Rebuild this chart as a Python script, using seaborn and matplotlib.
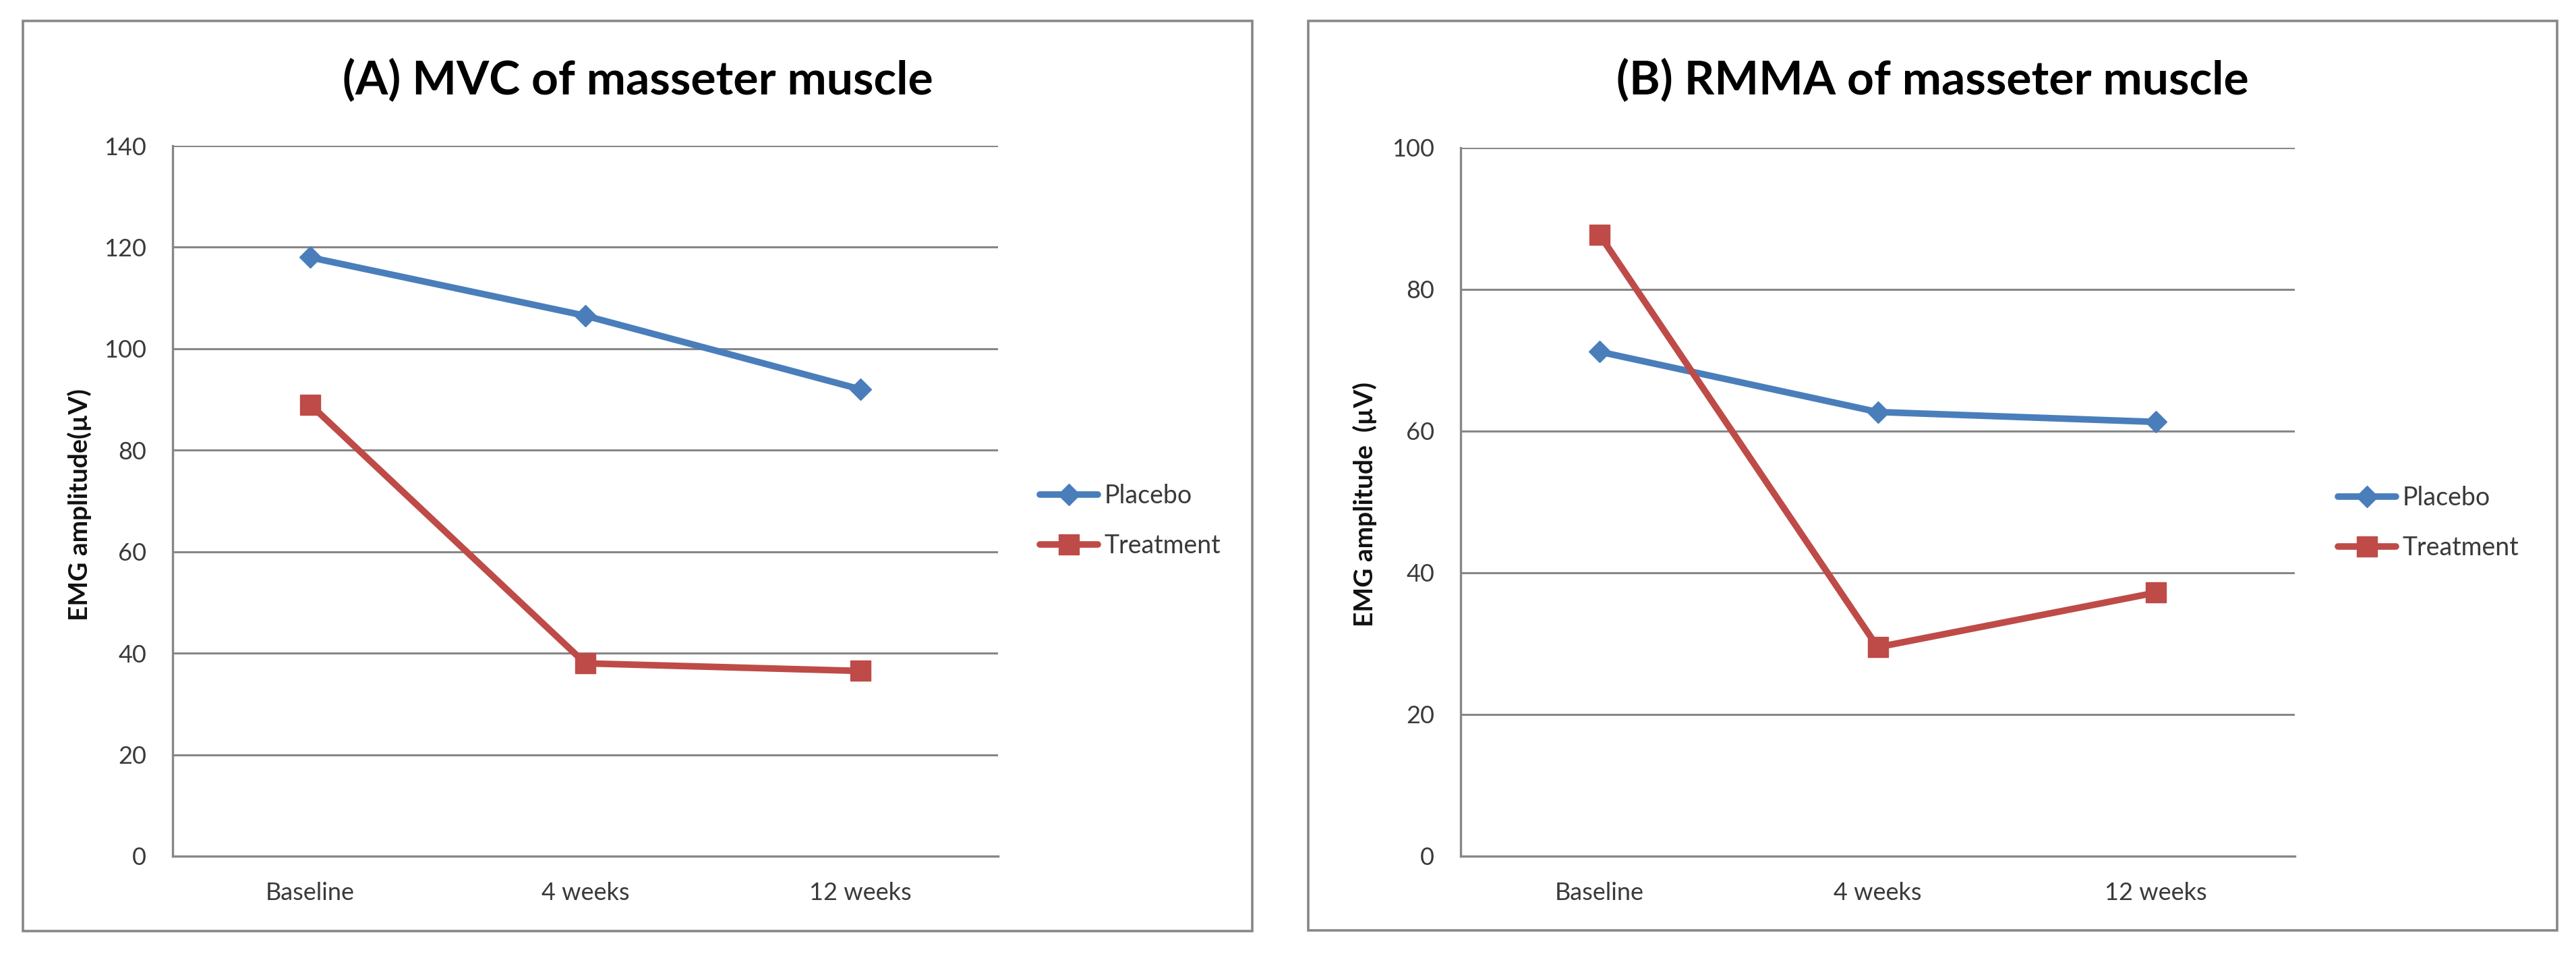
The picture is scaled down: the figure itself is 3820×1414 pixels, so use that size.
import pandas as pd
import seaborn as sns
import matplotlib.pyplot as plt
from matplotlib.patches import Rectangle

# data
weeks = ['Baseline', '4 weeks', '12 weeks']
groups = ['Placebo', 'Treatment']
mvc_placebo = [118, 106.5, 92]
mvc_treatment = [89, 38, 36.5]
rmma_placebo = [71.2, 62.7, 61.3]
rmma_treatment = [87.7, 29.5, 37.2]

titles = ['(A) MVC of masseter muscle', '(B) RMMA of masseter muscle']
ylabels = ['EMG amplitude(\u00b5V)', 'EMG amplitude  (\u00b5V)']
yticks = [list(range(0, 141, 20)), list(range(0, 101, 20))]

def make_df(placebo, treatment):
    return pd.DataFrame({
        'week': weeks * 2,
        'value': placebo + treatment,
        'group': ['Placebo'] * 3 + ['Treatment'] * 3,
    })

dfs = [make_df(mvc_placebo, mvc_treatment), make_df(rmma_placebo, rmma_treatment)]

sns.set_theme(style='white')
plt.rcParams['font.family'] = ['Lato', 'DejaVu Sans']

W, H = 3820, 1414
fig = plt.figure(figsize=(W / 100, H / 100), dpi=100)

def fx(px):
    return px / W

def fy(py):
    return 1 - py / H

palette = {'Placebo': '#4A7EBB', 'Treatment': '#BE4B48'}
markers = {'Placebo': 'D', 'Treatment': 's'}
gray = '#878787'
txt = '#3a3a3a'

# panel borders, axes boxes, legend spots (pixels)
panels = [(34, 31, 1857, 1380), (1940, 31, 3792, 1379)]
axboxes = [(256, 216, 1480, 1269), (2166, 219, 3403, 1269)]
legpos = [(1542, 772), (3467, 775)]
ylab_x = [118, 2024]

for i in range(2):
    x0, y0, x1, y1 = panels[i]
    fig.patches.append(Rectangle((fx(x0), fy(y1)), fx(x1) - fx(x0), fy(y0) - fy(y1),
                                 transform=fig.transFigure, fill=False,
                                 edgecolor=gray, linewidth=2.6, zorder=0))
    a0, b0, a1, b1 = axboxes[i]
    ax = fig.add_axes([fx(a0), fy(b1), fx(a1) - fx(a0), fy(b0) - fy(b1)])
    sns.lineplot(data=dfs[i], x='week', y='value', hue='group', style='group',
                 palette=palette, markers=markers, dashes=False, sort=False,
                 linewidth=7, legend=False, ax=ax)
    for ln in ax.lines:
        c = ln.get_color()
        ln.set_markeredgecolor(c)
        ln.set_markerfacecolor(c)
        ln.set_markeredgewidth(1)
        ln.set_markersize(16 if ln.get_marker() == 'D' else 22)
        ln.set_solid_joinstyle('round')
        ln.set_solid_capstyle('round')

    ax.set_xlim(-0.5, 2.5)
    ax.set_ylim(0, yticks[i][-1])
    ax.set_yticks(yticks[i])
    ax.grid(axis='y', color=gray, linewidth=2.2)
    ax.set_axisbelow(True)
    for s in ['top', 'right']:
        ax.spines[s].set_visible(False)
    for s in ['left', 'bottom']:
        ax.spines[s].set_color(gray)
        ax.spines[s].set_linewidth(2.4)
    ax.tick_params(axis='both', length=0, labelsize=26, labelcolor=txt)
    ax.tick_params(axis='y', pad=28)
    ax.tick_params(axis='x', pad=27)
    ax.set_xlabel('')
    ax.set_ylabel('')

    fig.text(fx(ylab_x[i]), fy(748), ylabels[i], rotation=90, ha='center', va='center',
             fontsize=28, fontweight='bold', color='#111111')
    fig.text(fx((x0 + x1) / 2), fy(140), titles[i], ha='center', va='baseline',
             fontsize=50, fontweight='bold', color='black')

    lx, ly = legpos[i]
    ax.legend(handles=ax.lines[:2], labels=groups, loc='center left',
              bbox_to_anchor=(fx(lx), fy(ly)), bbox_transform=fig.transFigure,
              frameon=False, fontsize=27, handlelength=2.3, handletextpad=0.25,
              labelspacing=1.0, borderpad=0, borderaxespad=0, labelcolor=txt)

fig.savefig('out.png', dpi=100, facecolor='white')
